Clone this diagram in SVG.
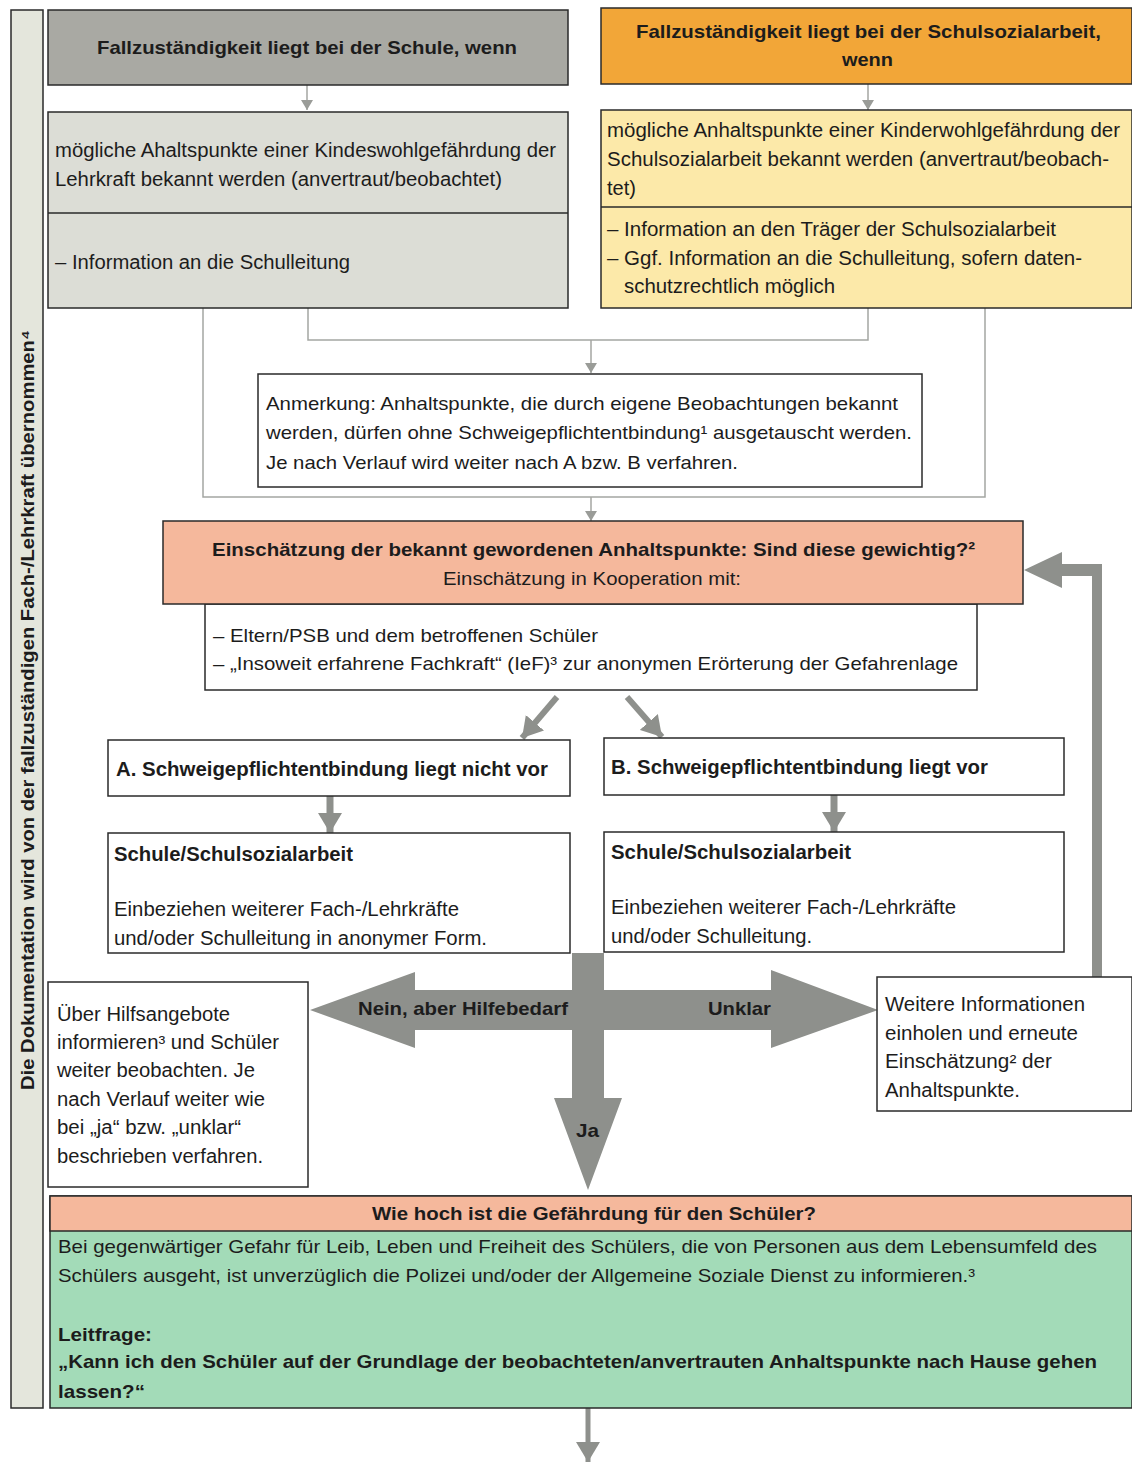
<svg xmlns="http://www.w3.org/2000/svg" width="1132" height="1464" viewBox="0 0 1132 1464">
<style>
.t{font-family:"Liberation Sans",Arial,"DejaVu Sans",sans-serif;font-size:19.5px;fill:#1c1c1c}
.b{font-weight:bold}
.s18{font-size:18.5px}
.box{stroke:#2a2a2a;stroke-width:1.5}
.thin{fill:none;stroke:#a4a6a2;stroke-width:1.5}
.thick{fill:none;stroke:#8e908c}
.big{fill:#8e908c}
</style>
<defs>
<marker id="ah" markerUnits="userSpaceOnUse" markerWidth="10" markerHeight="12" refX="10" refY="6" orient="auto">
<path d="M0,0 L10,6 L0,12 z" fill="#9a9c98"/>
</marker>
<marker id="ahb" markerUnits="userSpaceOnUse" markerWidth="20" markerHeight="24" refX="20" refY="12" orient="auto">
<path d="M0,0 L20,12 L0,24 z" fill="#8e908c"/>
</marker>
</defs>
<rect width="1132" height="1464" fill="#ffffff"/>

<g id="doc-bar">
<rect x="11" y="10" width="32" height="1398" fill="#e4e6dc" class="box"/>
<text class="t b s18" transform="translate(34,1090) rotate(-90)" textLength="760" lengthAdjust="spacingAndGlyphs">Die Dokumentation wird von der fallzuständigen Fach-/Lehrkraft übernommen⁴</text>
</g>

<g id="connectors">
<line x1="307" y1="85" x2="307" y2="110" class="thin" marker-end="url(#ah)"/>
<line x1="868" y1="84" x2="868" y2="110" class="thin" marker-end="url(#ah)"/>
<polyline points="308,308 308,340 868,340 868,308" class="thin"/>
<line x1="591" y1="340" x2="591" y2="373" class="thin" marker-end="url(#ah)"/>
<polyline points="203,308 203,497 985,497 985,308" class="thin"/>
<line x1="591" y1="497" x2="591" y2="521" class="thin" marker-end="url(#ah)"/>
<line x1="557" y1="697" x2="522" y2="738" class="thick" stroke-width="6" marker-end="url(#ahb)"/>
<line x1="627" y1="697" x2="662" y2="737" class="thick" stroke-width="6" marker-end="url(#ahb)"/>
<line x1="330" y1="796" x2="330" y2="833" class="thick" stroke-width="7" marker-end="url(#ahb)"/>
<line x1="834" y1="795" x2="834" y2="832" class="thick" stroke-width="7" marker-end="url(#ahb)"/>
<path class="big" d="M1102,977 L1092,977 L1092,576 L1062,576 L1062,588 L1024,570 L1062,552 L1062,564 L1102,564 Z"/>
<path class="big" d="M310,1010 L415,972 L415,990 L572,990 L572,953 L604,953 L604,990 L771,990 L771,970 L878,1010 L771,1048 L771,1030 L604,1030 L604,1098 L622,1098 L588,1190 L554,1098 L572,1098 L572,1030 L415,1030 L415,1048 Z"/>
<text class="t b s18" x="358" y="1015" textLength="210" lengthAdjust="spacingAndGlyphs">Nein, aber Hilfebedarf</text>
<text class="t b s18" x="708" y="1015" textLength="63" lengthAdjust="spacingAndGlyphs">Unklar</text>
<text class="t b s18" x="576" y="1137" textLength="23" lengthAdjust="spacingAndGlyphs">Ja</text>
<line x1="588" y1="1408" x2="588" y2="1462" class="thick" stroke-width="5" marker-end="url(#ahb)"/>
</g>

<g id="head-schule">
<rect x="48" y="10" width="520" height="75" fill="#a9a9a3" class="box"/>
<text class="t b s18" x="97" y="54" textLength="420" lengthAdjust="spacingAndGlyphs">Fallzuständigkeit liegt bei der Schule, wenn</text>
</g>

<g id="head-ssa">
<rect x="601" y="8" width="531" height="76" fill="#f2a638" class="box"/>
<text class="t b s18" x="636" y="38" textLength="465" lengthAdjust="spacingAndGlyphs">Fallzuständigkeit liegt bei der Schulsozialarbeit,</text>
<text class="t b s18" x="842" y="66" textLength="51" lengthAdjust="spacingAndGlyphs">wenn</text>
</g>

<g id="box-schule">
<rect x="48" y="112" width="520" height="196" fill="#dcddd6" class="box"/>
<line x1="48" y1="213" x2="568" y2="213" stroke="#2a2a2a" stroke-width="1.5"/>
<text class="t" x="55" y="157" textLength="501" lengthAdjust="spacingAndGlyphs">mögliche Ahaltspunkte einer Kindeswohlgefährdung der</text>
<text class="t" x="55" y="186" textLength="447" lengthAdjust="spacingAndGlyphs">Lehrkraft bekannt werden (anvertraut/beobachtet)</text>
<text class="t" x="55" y="269" textLength="295" lengthAdjust="spacingAndGlyphs">– Information an die Schulleitung</text>
</g>

<g id="box-ssa">
<rect x="601" y="110" width="531" height="198" fill="#fce9a9" class="box"/>
<line x1="601" y1="207" x2="1132" y2="207" stroke="#2a2a2a" stroke-width="1.5"/>
<text class="t" x="607" y="137" textLength="513" lengthAdjust="spacingAndGlyphs">mögliche Anhaltspunkte einer Kinderwohlgefährdung der</text>
<text class="t" x="607" y="166" textLength="502" lengthAdjust="spacingAndGlyphs">Schulsozialarbeit bekannt werden (anvertraut/beobach-</text>
<text class="t" x="607" y="195" textLength="29" lengthAdjust="spacingAndGlyphs">tet)</text>
<text class="t" x="607" y="236" textLength="449" lengthAdjust="spacingAndGlyphs">– Information an den Träger der Schulsozialarbeit</text>
<text class="t" x="607" y="265" textLength="475" lengthAdjust="spacingAndGlyphs">– Ggf. Information an die Schulleitung, sofern daten-</text>
<text class="t" x="624" y="293" textLength="211" lengthAdjust="spacingAndGlyphs">schutzrechtlich möglich</text>
</g>

<g id="anmerkung">
<rect x="258" y="374" width="664" height="113" fill="#ffffff" class="box"/>
<text class="t s18" x="266" y="410" textLength="632" lengthAdjust="spacingAndGlyphs">Anmerkung: Anhaltspunkte, die durch eigene Beobachtungen bekannt</text>
<text class="t s18" x="266" y="439" textLength="646" lengthAdjust="spacingAndGlyphs">werden, dürfen ohne Schweigepflichtentbindung¹ ausgetauscht werden.</text>
<text class="t s18" x="266" y="469" textLength="472" lengthAdjust="spacingAndGlyphs">Je nach Verlauf wird weiter nach A bzw. B verfahren.</text>
</g>

<g id="einschaetzung">
<rect x="205" y="604" width="772" height="86" fill="#ffffff" class="box"/>
<rect x="163" y="521" width="860" height="83" fill="#f5b89c" class="box"/>
<text class="t b s18" x="212" y="556" textLength="763" lengthAdjust="spacingAndGlyphs">Einschätzung der bekannt gewordenen Anhaltspunkte: Sind diese gewichtig?²</text>
<text class="t s18" x="443" y="585" textLength="298" lengthAdjust="spacingAndGlyphs">Einschätzung in Kooperation mit:</text>
<text class="t s18" x="213" y="642" textLength="385" lengthAdjust="spacingAndGlyphs">– Eltern/PSB und dem betroffenen Schüler</text>
<text class="t s18" x="213" y="670" textLength="745" lengthAdjust="spacingAndGlyphs">– „Insoweit erfahrene Fachkraft“ (IeF)³ zur anonymen Erörterung der Gefahrenlage</text>
</g>

<g id="a-head">
<rect x="108" y="740" width="462" height="56" fill="#ffffff" class="box"/>
<text class="t b" x="116" y="776" textLength="432" lengthAdjust="spacingAndGlyphs">A. Schweigepflichtentbindung liegt nicht vor</text>
</g>

<g id="b-head">
<rect x="604" y="738" width="460" height="57" fill="#ffffff" class="box"/>
<text class="t b" x="611" y="774" textLength="377" lengthAdjust="spacingAndGlyphs">B. Schweigepflichtentbindung liegt vor</text>
</g>

<g id="a-body">
<rect x="108" y="833" width="462" height="120" fill="#ffffff" class="box"/>
<text class="t b" x="114" y="861" textLength="239" lengthAdjust="spacingAndGlyphs">Schule/Schulsozialarbeit</text>
<text class="t" x="114" y="916" textLength="345" lengthAdjust="spacingAndGlyphs">Einbeziehen weiterer Fach-/Lehrkräfte</text>
<text class="t" x="114" y="945" textLength="373" lengthAdjust="spacingAndGlyphs">und/oder Schulleitung in anonymer Form.</text>
</g>

<g id="b-body">
<rect x="604" y="832" width="460" height="120" fill="#ffffff" class="box"/>
<text class="t b" x="611" y="859" textLength="240" lengthAdjust="spacingAndGlyphs">Schule/Schulsozialarbeit</text>
<text class="t" x="611" y="914" textLength="345" lengthAdjust="spacingAndGlyphs">Einbeziehen weiterer Fach-/Lehrkräfte</text>
<text class="t" x="611" y="943" textLength="201" lengthAdjust="spacingAndGlyphs">und/oder Schulleitung.</text>
</g>

<g id="nein-box">
<rect x="48" y="982" width="260" height="205" fill="#ffffff" class="box"/>
<text class="t" x="57" y="1021" textLength="173" lengthAdjust="spacingAndGlyphs">Über Hilfsangebote</text>
<text class="t" x="57" y="1049" textLength="222" lengthAdjust="spacingAndGlyphs">informieren³ und Schüler</text>
<text class="t" x="57" y="1077" textLength="198" lengthAdjust="spacingAndGlyphs">weiter beobachten. Je</text>
<text class="t" x="57" y="1106" textLength="208" lengthAdjust="spacingAndGlyphs">nach Verlauf weiter wie</text>
<text class="t" x="57" y="1134" textLength="184" lengthAdjust="spacingAndGlyphs">bei „ja“ bzw. „unklar“</text>
<text class="t" x="57" y="1163" textLength="206" lengthAdjust="spacingAndGlyphs">beschrieben verfahren.</text>
</g>

<g id="unklar-box">
<rect x="877" y="977" width="255" height="134" fill="#ffffff" class="box"/>
<text class="t" x="885" y="1011" textLength="200" lengthAdjust="spacingAndGlyphs">Weitere Informationen</text>
<text class="t" x="885" y="1040" textLength="193" lengthAdjust="spacingAndGlyphs">einholen und erneute</text>
<text class="t" x="885" y="1068" textLength="167" lengthAdjust="spacingAndGlyphs">Einschätzung² der</text>
<text class="t" x="885" y="1097" textLength="135" lengthAdjust="spacingAndGlyphs">Anhaltspunkte.</text>
</g>

<g id="gefaehrdung">
<rect x="50" y="1196" width="1082" height="212" fill="#a3dbb8" class="box"/>
<rect x="50" y="1196" width="1082" height="35" fill="#f5b89c" class="box"/>
<text class="t b s18" x="372" y="1220" textLength="444" lengthAdjust="spacingAndGlyphs">Wie hoch ist die Gefährdung für den Schüler?</text>
<text class="t s18" x="58" y="1253" textLength="1039" lengthAdjust="spacingAndGlyphs">Bei gegenwärtiger Gefahr für Leib, Leben und Freiheit des Schülers, die von Personen aus dem Lebensumfeld des</text>
<text class="t s18" x="58" y="1282" textLength="917" lengthAdjust="spacingAndGlyphs">Schülers ausgeht, ist unverzüglich die Polizei und/oder der Allgemeine Soziale Dienst zu informieren.³</text>
<text class="t b s18" x="58" y="1341" textLength="94" lengthAdjust="spacingAndGlyphs">Leitfrage:</text>
<text class="t b s18" x="58" y="1368" textLength="1039" lengthAdjust="spacingAndGlyphs">„Kann ich den Schüler auf der Grundlage der beobachteten/anvertrauten Anhaltspunkte nach Hause gehen</text>
<text class="t b s18" x="58" y="1398" textLength="87" lengthAdjust="spacingAndGlyphs">lassen?“</text>
</g>
</svg>
